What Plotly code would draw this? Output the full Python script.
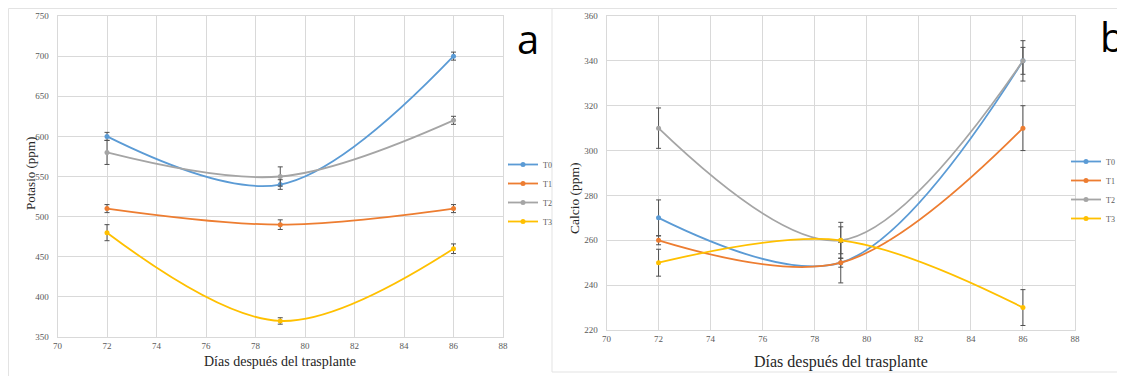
import plotly.graph_objects as go

days = [72, 79, 86]
series = ["T0", "T1", "T2", "T3"]
colors = ["#5B9BD5", "#ED7D31", "#A5A5A5", "#FFC000"]

# Panel a: Potasio (ppm)
k_T0 = [600, 540, 700]
k_T1 = [510, 490, 510]
k_T2 = [580, 550, 620]
k_T3 = [480, 370, 460]
k_err_T0 = [5, 6, 5]
k_err_T1 = [5, 6, 5]
k_err_T2 = [15, 12, 5]
k_err_T3 = [10, 4, 6]

# Panel b: Calcio (ppm)
ca_T0 = [270, 250, 340]
ca_T1 = [260, 250, 310]
ca_T2 = [310, 260, 340]
ca_T3 = [250, 260, 230]
ca_err_T0 = [8, 9, 6]
ca_err_T1 = [2, 2, 10]
ca_err_T2 = [9, 6, 9]
ca_err_T3 = [6, 8, 8]

x_ticks = list(range(70, 89, 2))

# The page body has an 8px default margin, so the figure is sized to fit
OFF = 8
W, H = 1125 - OFF, 376 - OFF
def px(x): return (x - OFF) / W
def py(y): return 1 - (y - OFF) / H

fig = go.Figure()

k_vals = [k_T0, k_T1, k_T2, k_T3]
k_errs = [k_err_T0, k_err_T1, k_err_T2, k_err_T3]
ca_vals = [ca_T0, ca_T1, ca_T2, ca_T3]
ca_errs = [ca_err_T0, ca_err_T1, ca_err_T2, ca_err_T3]

for name, c, v, e in zip(series, colors, k_vals, k_errs):
    fig.add_trace(go.Scatter(
        x=days, y=v, name=name, mode="lines+markers",
        line=dict(color=c, width=1.8, shape="spline", smoothing=1),
        marker=dict(color=c, size=5),
        error_y=dict(type="data", array=e, visible=True, color="#505050", thickness=1, width=2.5),
        xaxis="x", yaxis="y", legend="legend"))

for name, c, v, e in zip(series, colors, ca_vals, ca_errs):
    fig.add_trace(go.Scatter(
        x=days, y=v, name=name, mode="lines+markers",
        line=dict(color=c, width=1.8, shape="spline", smoothing=1),
        marker=dict(color=c, size=5),
        error_y=dict(type="data", array=e, visible=True, color="#505050", thickness=1, width=2.5),
        xaxis="x2", yaxis="y2", legend="legend2"))

tick_font = dict(family="Liberation Serif", size=9, color="#595959")
grid = "#D9D9D9"
common_x = dict(range=[70, 88], tickvals=x_ticks, showgrid=True, gridcolor=grid, gridwidth=1,
                zeroline=False, showline=True, linecolor=grid, mirror=True, ticks="",
                tickfont=tick_font, automargin=False)
common_y = dict(showgrid=True, gridcolor=grid, gridwidth=1, zeroline=False, showline=True,
                linecolor=grid, mirror=True, ticks="", tickfont=tick_font, automargin=False,
                ticklabelstandoff=6)

legend_common = dict(font=dict(family="Liberation Serif", size=8, color="#595959"),
                     bgcolor="rgba(0,0,0,0)", itemwidth=30, tracegroupgap=0,
                     yanchor="middle", xanchor="left")

fig.update_layout(
    width=W, height=H, margin=dict(l=0, r=0, t=0, b=0, autoexpand=False),
    paper_bgcolor="white", plot_bgcolor="white",
    xaxis=dict(domain=[px(57.5), px(503)], anchor="y", **common_x),
    yaxis=dict(domain=[py(337), py(16)], anchor="x", range=[350, 750], dtick=50, **common_y),
    xaxis2=dict(domain=[px(606.5), px(1075)], anchor="y2", **common_x),
    yaxis2=dict(domain=[py(330), py(16)], anchor="x2", range=[220, 360], dtick=20, **common_y),
    legend=dict(x=px(503), y=py(193), **legend_common),
    legend2=dict(x=px(1066), y=py(190), **legend_common),
    showlegend=True,
)

title_font = dict(family="Liberation Serif", color="#262626")
ann = [
    dict(text="Potasio (ppm)", x=px(30), y=py(174), textangle=-90, font=dict(size=13, **title_font)),
    dict(text="Calcio (ppm)", x=px(574), y=py(198), textangle=-90, font=dict(size=13.5, **title_font)),
    dict(text="Días después del trasplante", x=px(280), y=py(361), font=dict(size=14, **title_font)),
    dict(text="Días después del trasplante", x=px(841), y=py(362), font=dict(size=16, **title_font)),
    dict(text="a", x=px(528), y=py(38), font=dict(family="Open Sans", size=40, color="black")),
    dict(text="b", x=px(1112), y=py(36), font=dict(family="Open Sans", size=40, color="black")),
]
for a in ann:
    a.update(xref="paper", yref="paper", showarrow=False, xanchor="center", yanchor="middle")
fig.update_layout(annotations=ann)

border = dict(color="#E3E3E3", width=1)
shapes = [
    dict(type="line", x0=px(8.5), x1=px(8.5), y0=py(8.5), y1=py(376), line=border),
    dict(type="line", x0=px(8.5), x1=1, y0=py(8.5), y1=py(8.5), line=border),
    dict(type="line", x0=px(552), x1=px(552), y0=py(8.5), y1=py(372), line=border),
    dict(type="line", x0=px(552), x1=1, y0=py(372), y1=py(372), line=border),
]
for s in shapes:
    s.update(xref="paper", yref="paper", layer="below")
fig.update_layout(shapes=shapes)

fig.write_html("out.html")
